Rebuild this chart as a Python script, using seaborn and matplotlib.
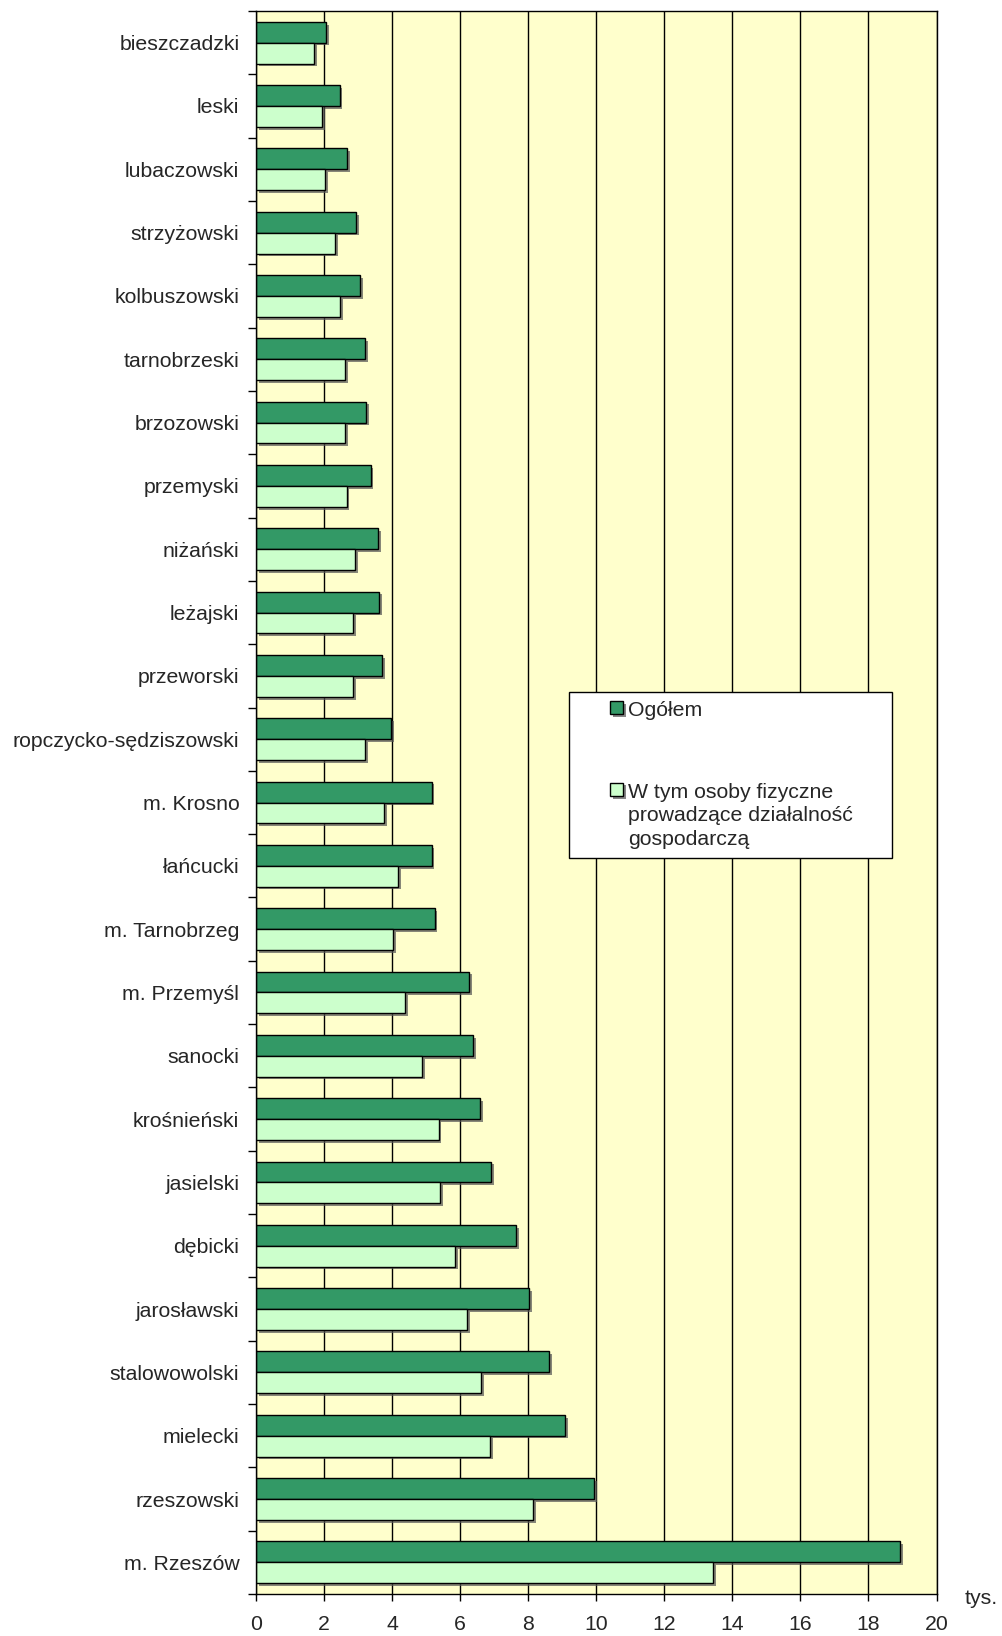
import matplotlib
matplotlib.use('Agg')
import numpy as np
import pandas as pd
import matplotlib.pyplot as plt
import matplotlib.patheffects as pe
from matplotlib.patches import Rectangle
from matplotlib.ticker import MultipleLocator, FixedLocator
import seaborn as sns

powiaty = ['bieszczadzki', 'leski', 'lubaczowski', 'strzyżowski', 'kolbuszowski',
           'tarnobrzeski', 'brzozowski', 'przemyski', 'niżański', 'leżajski',
           'przeworski', 'ropczycko-sędziszowski', 'm. Krosno', 'łańcucki',
           'm. Tarnobrzeg', 'm. Przemyśl', 'sanocki', 'krośnieński', 'jasielski',
           'dębicki', 'jarosławski', 'stalowowolski', 'mielecki', 'rzeszowski',
           'm. Rzeszów']
ogolem = [2.07, 2.46, 2.67, 2.94, 3.06, 3.21, 3.23, 3.37, 3.60, 3.62,
          3.71, 3.97, 5.16, 5.16, 5.25, 6.27, 6.38, 6.58, 6.91, 7.64,
          8.02, 8.61, 9.08, 9.94, 18.93]
osoby_fiz = [1.70, 1.95, 2.04, 2.33, 2.47, 2.61, 2.63, 2.66, 2.92, 2.86,
             2.86, 3.21, 3.76, 4.17, 4.03, 4.39, 4.88, 5.37, 5.42, 5.85,
             6.20, 6.62, 6.89, 8.15, 13.44]
serie = ['Ogółem', 'W tym osoby fizyczne\nprowadzące działalność\ngospodarczą']

df = pd.DataFrame({
    'powiat': powiaty * 2,
    'wartosc': ogolem + osoby_fiz,
    'seria': [serie[0]] * len(powiaty) + [serie[1]] * len(powiaty),
})

sns.set_style('white')
plt.rcParams['font.family'] = ['Liberation Sans', 'DejaVu Sans']
plt.rcParams['font.size'] = 15.3

fig = plt.figure(figsize=(10.02, 16.36), dpi=100)
ax = fig.add_axes([256 / 1002, 1 - 1594 / 1636, (936.5 - 256) / 1002, (1594 - 11) / 1636])
ax.set_facecolor('#FFFFCC')

sns.barplot(data=df, y='powiat', x='wartosc', hue='seria', orient='h',
            palette=['#339966', '#CCFFCC'], width=0.66, edgecolor='black',
            linewidth=1, saturation=1, ax=ax, legend=True)

# cień pod słupkami
for p in ax.patches:
    p.set_path_effects([pe.SimplePatchShadow(offset=(2, -2), shadow_rgbFace='#555555', alpha=0.7),
                        pe.Normal()])

ax.set_xlim(0, 20)
ax.xaxis.set_major_locator(MultipleLocator(2))
ax.xaxis.grid(True, color='black', lw=1)
ax.yaxis.grid(False)
ax.set_axisbelow(True)
ax.set_xlabel('')
ax.set_ylabel('')
for s in ax.spines.values():
    s.set_color('black')
    s.set_linewidth(1)

ax.tick_params(axis='x', direction='out', length=5, width=1, color='black', pad=10, labelsize=15.3, bottom=True)
ax.tick_params(axis='y', which='major', length=0, pad=12, labelsize=15.3)
ax.yaxis.set_minor_locator(FixedLocator(np.arange(-0.5, len(powiaty), 1)))
ax.tick_params(axis='y', which='minor', direction='out', length=6, width=1, color='black', left=True)

# legenda
leg = ax.legend(loc='upper left', bbox_to_anchor=(610 / 1002, 1 - 701 / 1636),
                bbox_transform=fig.transFigure, frameon=False, fontsize=15.3,
                borderpad=0, borderaxespad=0, handlelength=0.6, handleheight=0.6,
                handletextpad=0.25, labelspacing=2.95)
leg.set_zorder(6)
for t in leg.get_texts():
    t.set_linespacing(1.3)
for col in leg._legend_handle_box.get_children():
    for row in col.get_children():
        row.align = 'top'
box = Rectangle((569 / 1002, 1 - 858 / 1636), (892 - 569) / 1002, (858 - 692) / 1636,
                transform=fig.transFigure, facecolor='white', edgecolor='black', lw=1, zorder=5)
ax.add_patch(box)
box.set_path_effects([])

fig.text(981 / 1002, 1 - 1598 / 1636, 'tys.', ha='center', va='center', fontsize=15.3)

fig.savefig('out.png', dpi=100)
